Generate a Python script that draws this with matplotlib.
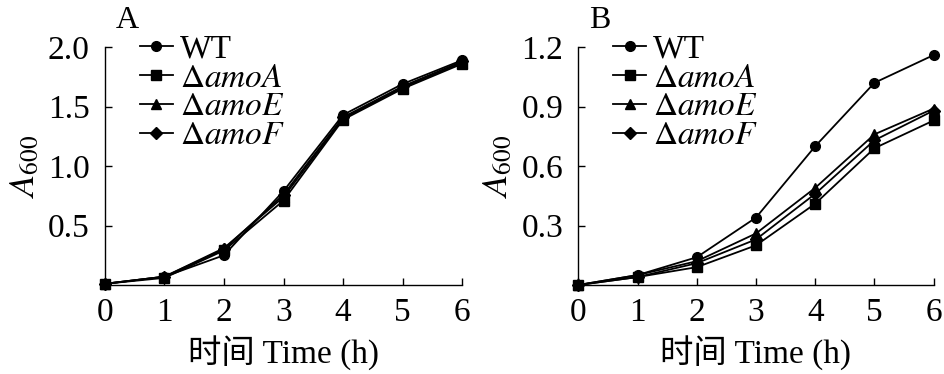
import matplotlib
matplotlib.use("Agg")
import matplotlib.pyplot as plt

plt.rcParams["font.family"] = ["Liberation Serif", "Noto Sans CJK SC"]
plt.rcParams["mathtext.fontset"] = "stix"

# 时间 (h)
hours = [0, 1, 2, 3, 4, 5, 6]
labels = ["WT", r"$\Delta\mathit{amoA}$", r"$\Delta\mathit{amoE}$", r"$\Delta\mathit{amoF}$"]
markers = ["o", "s", "^", "D"]

# A 图
a_wt = [0.01, 0.07, 0.25, 0.79, 1.43, 1.69, 1.89]
a_amoA = [0.01, 0.06, 0.29, 0.71, 1.39, 1.65, 1.86]
a_amoE = [0.01, 0.07, 0.31, 0.74, 1.40, 1.66, 1.87]
a_amoF = [0.01, 0.07, 0.30, 0.76, 1.41, 1.67, 1.88]

# B 图
b_wt = [0.00, 0.05, 0.14, 0.34, 0.70, 1.02, 1.16]
b_amoA = [0.00, 0.04, 0.09, 0.20, 0.41, 0.69, 0.83]
b_amoE = [0.00, 0.05, 0.12, 0.26, 0.49, 0.76, 0.89]
b_amoF = [0.00, 0.04, 0.11, 0.23, 0.46, 0.73, 0.88]

a_ticks = [0.5, 1.0, 1.5, 2.0]
b_ticks = [0.3, 0.6, 0.9, 1.2]

fig = plt.figure(figsize=(9.45, 3.74), dpi=100)
ax_a = fig.add_axes([0.111, 0.238, 0.378, 0.636])
ax_b = fig.add_axes([0.612, 0.238, 0.376, 0.636])


def draw(ax, series, ticks, ymax, tag):
    for ys, lab, m in zip(series, labels, markers):
        ms = 6 if m == "D" else 7
        ax.plot(hours, ys, color="black", marker=m, markersize=ms, lw=1.3,
                label=lab, clip_on=False)
    ax.set_xlim(0, 6)
    ax.set_ylim(0, ymax)
    ax.set_xticks(hours)
    ax.set_yticks(ticks)
    ax.set_yticklabels(["{:.1f}".format(t) for t in ticks])
    ax.tick_params(direction="in", length=5, width=1, labelsize=24)
    ax.tick_params(axis="x", pad=9)
    ax.tick_params(axis="y", pad=11)
    for s in ["top", "right"]:
        ax.spines[s].set_visible(False)
    for s in ["left", "bottom"]:
        ax.spines[s].set_linewidth(1.0)
    ax.set_xlabel("时间 Time (h)", fontsize=24, labelpad=6)
    ax.set_ylabel(r"$\mathit{A}_{600}$", fontsize=26, labelpad=4)
    ax.text(0.03, 1.11, tag, transform=ax.transAxes, fontsize=23, ha="left", va="center")
    ax.legend(loc="upper left", bbox_to_anchor=(0.06, 1.11), frameon=False, fontsize=24,
              handlelength=1.0, handletextpad=0.2, labelspacing=-0.05, borderaxespad=0)


draw(ax_a, [a_wt, a_amoA, a_amoE, a_amoF], a_ticks, 2.0, "A")
draw(ax_b, [b_wt, b_amoA, b_amoE, b_amoF], b_ticks, 1.2, "B")

fig.savefig("out.png", dpi=100)
